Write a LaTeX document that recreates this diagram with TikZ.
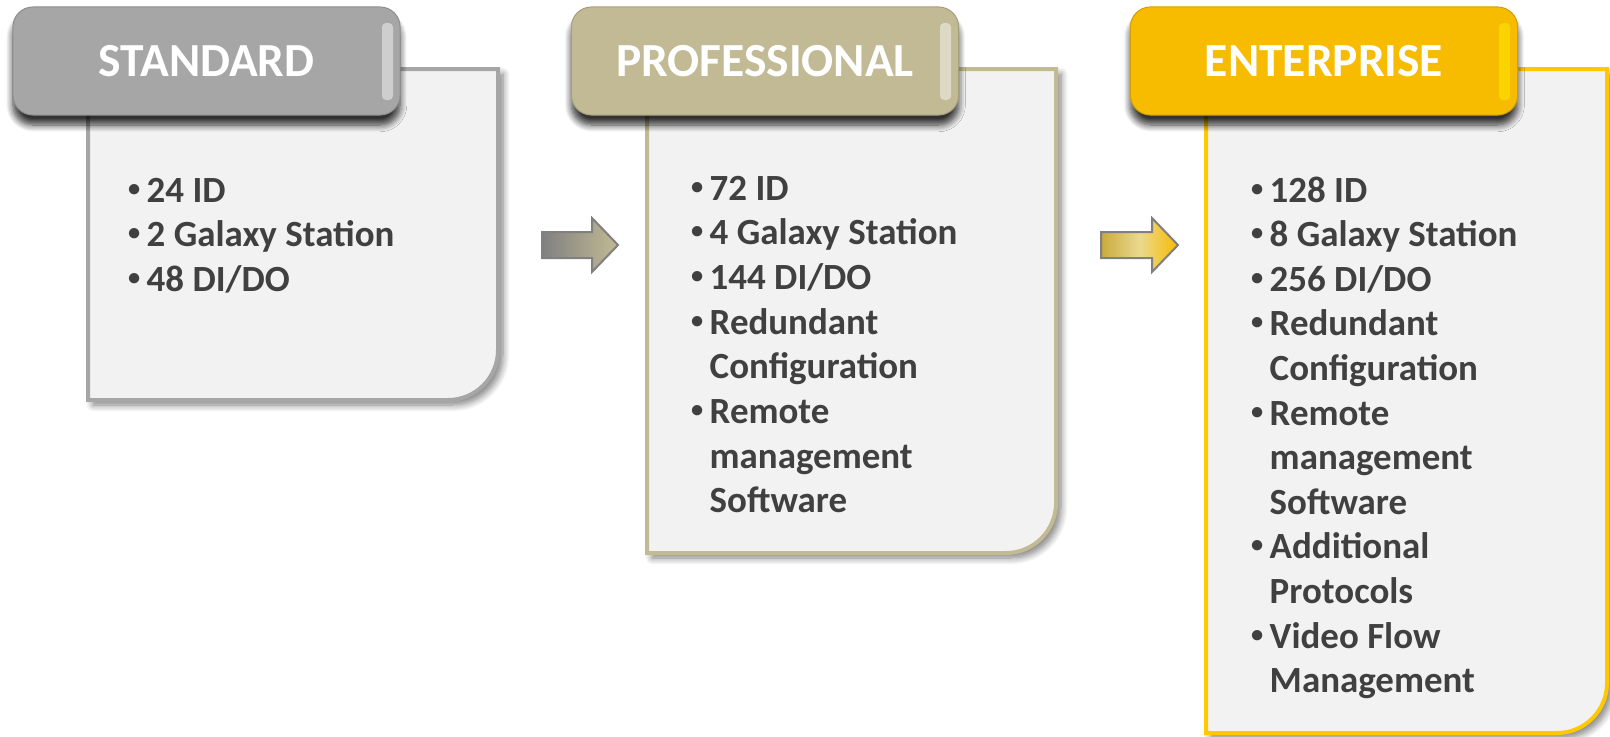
\documentclass[tikz,border=0pt]{standalone}
\usepackage{fontspec}
\usepackage{graphicx}
\setmainfont{Carlito}
\usetikzlibrary{shadows.blur}

\definecolor{stdgray}{HTML}{A6A6A6}
\definecolor{proftan}{HTML}{C2BA94}
\definecolor{entgold}{HTML}{F7BB00}
\definecolor{entline}{HTML}{FFC800}
\definecolor{panelfill}{HTML}{F2F2F2}
\definecolor{itemgray}{HTML}{404040}
\definecolor{arrowedge}{HTML}{808080}
\definecolor{arrowgold}{HTML}{C9AA3C}
\definecolor{arrowlight}{HTML}{EAD98E}
\newcommand{\bul}{\makebox[0.2cm][l]{\hspace{0.015cm}\raisebox{0.06cm}{\scalebox{0.66}{\textbullet}}}}
\newcommand{\cont}{\hspace*{0.2cm}}

\begin{document}
\begin{tikzpicture}[x=0.01cm,y=-0.01cm,
   panel/.style={draw=#1,line width=0.04cm,fill=panelfill,
      blur shadow={shadow xshift=0.05cm,shadow yshift=-0.05cm,shadow blur steps=8,shadow opacity=50}},
   head/.style={rounded corners=0.2cm,minimum width=3.87cm,minimum height=1.08cm,
      fill=#1,draw=#1!85!black,line width=0.01cm,text=white,
      font=\fontsize{13.5}{15}\selectfont\bfseries,
      blur shadow={shadow xshift=0cm,shadow yshift=-0.1cm,shadow blur steps=8,shadow opacity=80}},
   gloss/.style={fill=#1,opacity=0.45,rounded corners=0.04cm},
   itemtext/.style={anchor=base west,inner sep=0pt,text=itemgray,
      font=\fontsize{10.5}{12}\selectfont\bfseries},
   blockarrow/.style={draw=arrowedge,line width=0.02cm}]
\useasboundingbox (0,0) rectangle (1610,736);

% panels
\draw[panel=stdgray] (88,69) -- (498,69) -- (498,350)
   .. controls (498,377.6) and (475.6,400) .. (448,400) -- (88,400) -- cycle;
\draw[panel=proftan] (647,69) -- (1056,69) -- (1056,503)
   .. controls (1056,530.6) and (1033.6,553) .. (1006,553) -- (647,553) -- cycle;
\draw[panel=entline] (1206,69) -- (1607,69) -- (1607,683)
   .. controls (1607,710.6) and (1584.6,733) .. (1557,733) -- (1206,733) -- cycle;

% headers
\node[head=stdgray] (std-head) at (206.5,61) {STANDARD};
\node[head=proftan] (prof-head) at (765,61) {PROFESSIONAL};
\node[head=entgold] (ent-head) at (1324,61) {ENTERPRISE};
\fill[gloss=white] (382,23) rectangle (393,100);
\fill[gloss=white] (940,23) rectangle (951,100);
\fill[gloss=yellow] (1499,23) rectangle (1510,100);

% arrows
\shade[blockarrow,left color=arrowedge,right color=proftan]
   (542,232) -- (592,232) -- (592,218) -- (618,245) -- (592,272) -- (592,258) -- (542,258) -- cycle;
\shade[blockarrow,left color=arrowgold,right color=entgold,middle color=arrowlight]
   (1101,232) -- (1152,232) -- (1152,218) -- (1178,245) -- (1152,272) -- (1152,258) -- (1101,258) -- cycle;

% items
\foreach \t [count=\i] in {{\bul 24 ID},{\bul 2 Galaxy Station},{\bul 48 DI/DO}}
   \node[itemtext] (std-\i) at (126,{157.4+44.6*\i}) {\t};
\foreach \t [count=\i] in {{\bul 72 ID},{\bul 4 Galaxy Station},{\bul 144 DI/DO},
      {\bul Redundant},{\cont Configuration},{\bul Remote},{\cont management},{\cont Software}}
   \node[itemtext] (prof-\i) at (689,{155.3+44.7*\i}) {\t};
\foreach \t [count=\i] in {{\bul 128 ID},{\bul 8 Galaxy Station},{\bul 256 DI/DO},
      {\bul Redundant},{\cont Configuration},{\bul Remote},{\cont management},{\cont Software},
      {\bul Additional},{\cont Protocols},{\bul Video Flow},{\cont Management}}
   \node[itemtext] (ent-\i) at (1249,{157.4+44.6*\i}) {\t};
\end{tikzpicture}
\end{document}
